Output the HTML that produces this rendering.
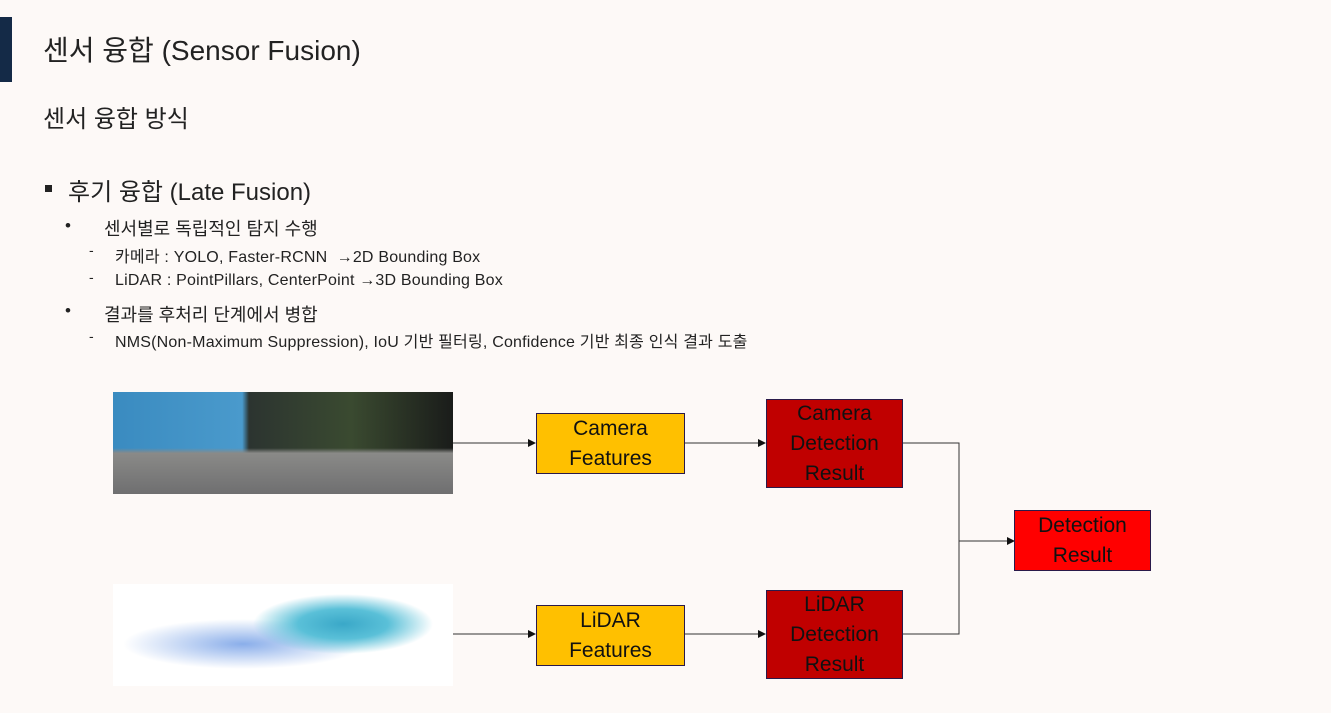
<!DOCTYPE html>
<html><head><meta charset="utf-8"><style>
body{margin:0;width:1331px;height:713px;background:#fdf9f7;position:relative;overflow:hidden;font-family:"Liberation Sans","Noto Sans CJK KR",sans-serif;color:#222}
.t{position:absolute;white-space:nowrap}
.box{position:absolute;box-sizing:border-box;border:1.5px solid #2a1a4a;display:flex;align-items:center;justify-content:center;text-align:center;font-size:21px;line-height:30px;color:#111}
</style></head><body>
<div style="position:absolute;left:0;top:17px;width:12px;height:65px;background:#142a47"></div>
<div class="t" style="left:43px;top:29px;font-size:28px">센서 융합 (Sensor Fusion)</div>
<div class="t" style="left:43px;top:99px;font-size:24px">센서 융합 방식</div>
<div style="position:absolute;left:45px;top:185px;width:7px;height:7px;background:#222"></div>
<div class="t" style="left:68px;top:172px;font-size:24px">후기 융합 (Late Fusion)</div>
<div class="t" style="left:65px;top:216px;font-size:17px">•</div>
<div class="t" style="left:104px;top:215px;font-size:18px">센서별로 독립적인 탐지 수행</div>
<div class="t" style="left:89px;top:242px;font-size:14px">-</div>
<div class="t" style="left:115px;top:243px;font-size:16px;letter-spacing:0.2px">카메라 : YOLO, Faster-RCNN &nbsp;→2D Bounding Box</div>
<div class="t" style="left:89px;top:269px;font-size:14px">-</div>
<div class="t" style="left:115px;top:272px;font-size:16px;letter-spacing:0.2px">LiDAR : PointPillars, CenterPoint →3D Bounding Box</div>
<div class="t" style="left:65px;top:301px;font-size:17px">•</div>
<div class="t" style="left:104px;top:301px;font-size:18px">결과를 후처리 단계에서 병합</div>
<div class="t" style="left:89px;top:328px;font-size:14px">-</div>
<div class="t" style="left:115px;top:328px;font-size:16px;letter-spacing:0.2px">NMS(Non-Maximum Suppression), IoU 기반 필터링, Confidence 기반 최종 인식 결과 도출</div>

<div style="position:absolute;left:113px;top:392px;width:340px;height:102px;background:linear-gradient(180deg,rgba(0,0,0,0) 55%,#8a8a88 60%,#6f6f70 100%),linear-gradient(90deg,#3a8bc0 0,#4a9acc 38%,#2c3430 40%,#3a4a30 70%,#1a1c1a 100%)"></div>
<div style="position:absolute;left:113px;top:584px;width:340px;height:102px;background:radial-gradient(ellipse 90px 30px at 230px 40px,#3aa8c8 0,#5ac0d8 50%,rgba(255,255,255,0) 100%),radial-gradient(ellipse 120px 25px at 130px 60px,rgba(60,120,220,.6) 0,rgba(255,255,255,0) 100%),#fff"></div>

<svg style="position:absolute;left:0;top:0" width="1331" height="713">
<defs><marker id="a" markerWidth="8" markerHeight="8" refX="7" refY="4" orient="auto" markerUnits="userSpaceOnUse"><path d="M0,0L8,4L0,8z" fill="#111"/></marker></defs>
<g stroke="#333" stroke-width="1" fill="none">
<line x1="453" y1="443" x2="535" y2="443" marker-end="url(#a)"/>
<line x1="684" y1="443" x2="765" y2="443" marker-end="url(#a)"/>
<line x1="453" y1="634" x2="535" y2="634" marker-end="url(#a)"/>
<line x1="684" y1="634" x2="765" y2="634" marker-end="url(#a)"/>
<polyline points="902,443 959,443 959,634 902,634"/>
<line x1="959" y1="541" x2="1014" y2="541" marker-end="url(#a)"/>
</g></svg>

<div class="box" style="left:536px;top:413px;width:149px;height:61px;background:#ffc000">Camera<br>Features</div>
<div class="box" style="left:536px;top:605px;width:149px;height:61px;background:#ffc000">LiDAR<br>Features</div>
<div class="box" style="left:766px;top:399px;width:137px;height:89px;background:#c00000">Camera<br>Detection<br>Result</div>
<div class="box" style="left:766px;top:590px;width:137px;height:89px;background:#c00000">LiDAR<br>Detection<br>Result</div>
<div class="box" style="left:1014px;top:510px;width:137px;height:61px;background:#ff0000">Detection<br>Result</div>
</body></html>
